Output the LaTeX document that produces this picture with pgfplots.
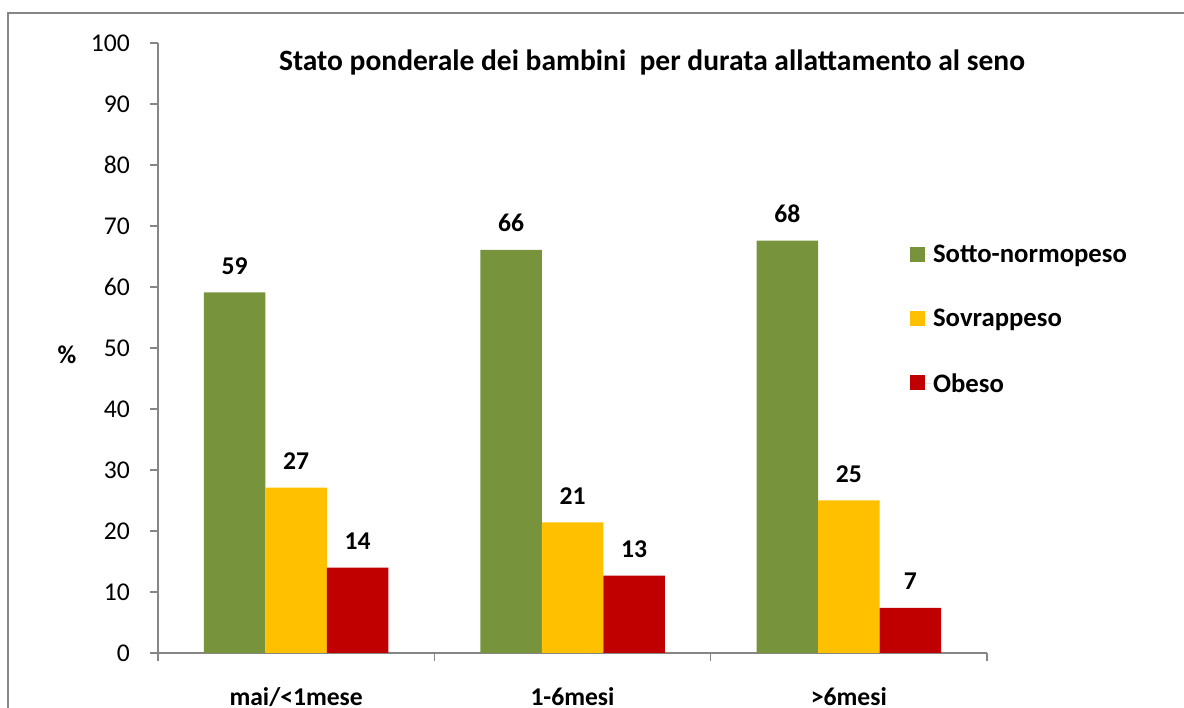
\documentclass[border=0pt]{standalone}
\usepackage{pgfplots}
\pgfplotsset{compat=1.18}
\usepackage{fontspec}
\setmainfont{Carlito}
\definecolor{cgreen}{HTML}{77933C}
\definecolor{cyellow}{HTML}{FFC000}
\definecolor{cred}{HTML}{C00000}
\definecolor{axgray}{HTML}{868686}
\newcommand{\fs}{\fontsize{25.6}{30}\selectfont}
\pgfplotsset{mylegend/.style={legend image code/.code={\fill[##1] (0pt,-7pt) rectangle (15pt,8pt); \path (0pt,0pt) -- (21pt,0pt);}}}
\begin{document}
\begin{tikzpicture}[x=1pt,y=1pt]
\path[use as bounding box] (0,0) rectangle (1184,708);
\draw[axgray, line width=1.5pt] (8,0) -- (8,695) -- (1184,695);
\node[font=\bfseries\fontsize{29.5}{34}\selectfont] at (652,646) {Stato ponderale dei bambini\ \ per durata allattamento al seno};
\node[font=\bfseries\fs] at (67,353) {\%};
\begin{axis}[
  at={(158pt,55pt)}, anchor=south west,
  scale only axis, width=829pt, height=610pt,
  xmin=-0.5, xmax=2.5, ymin=0, ymax=100,
  axis x line*=bottom, axis y line*=left,
  axis line style={draw=axgray, line width=1.2pt, -},
  ytick={0,10,...,100},
  xtick={0,1,2}, xticklabels={mai/<1mese,1-6mesi,>6mesi},
  minor xtick={-0.5,0.5,1.5,2.5},
  major x tick style={draw=none},
  tick align=outside, major tick length=8pt, minor tick length=8pt,
  every tick/.style={axgray, line width=1.2pt},
  ytick pos=left, xtick pos=bottom,
  /pgf/number format/assume math mode=true,
  /pgf/number format/fixed, /pgf/number format/precision=0,
  yticklabel style={font=\fs, anchor=east, inner sep=0pt, xshift=-20pt},
  xticklabel style={font=\bfseries\fs, anchor=base, yshift=-45pt},
  ybar=0pt, bar width=61.5pt,
  nodes near coords,
  every node near coord/.append style={font=\bfseries\fs, anchor=south, inner sep=0pt, yshift=18pt, black},
  legend style={draw=none, fill=none, at={(0.907,0.672)}, anchor=north west, font=\bfseries\fontsize{26.7}{31}\selectfont, row sep=41pt, inner sep=0pt, cells={anchor=west}},
]
\addplot[fill=cgreen, draw=none, mylegend] coordinates {(0,59.1) (1,66.1) (2,67.6)};
\addlegendentry{Sotto-normopeso}
\addplot[fill=cyellow, draw=none, mylegend] coordinates {(0,27.1) (1,21.4) (2,25.0)};
\addlegendentry{Sovrappeso}
\addplot[fill=cred, draw=none, mylegend] coordinates {(0,14.0) (1,12.7) (2,7.4)};
\addlegendentry{Obeso}
\end{axis}
\end{tikzpicture}
\end{document}
